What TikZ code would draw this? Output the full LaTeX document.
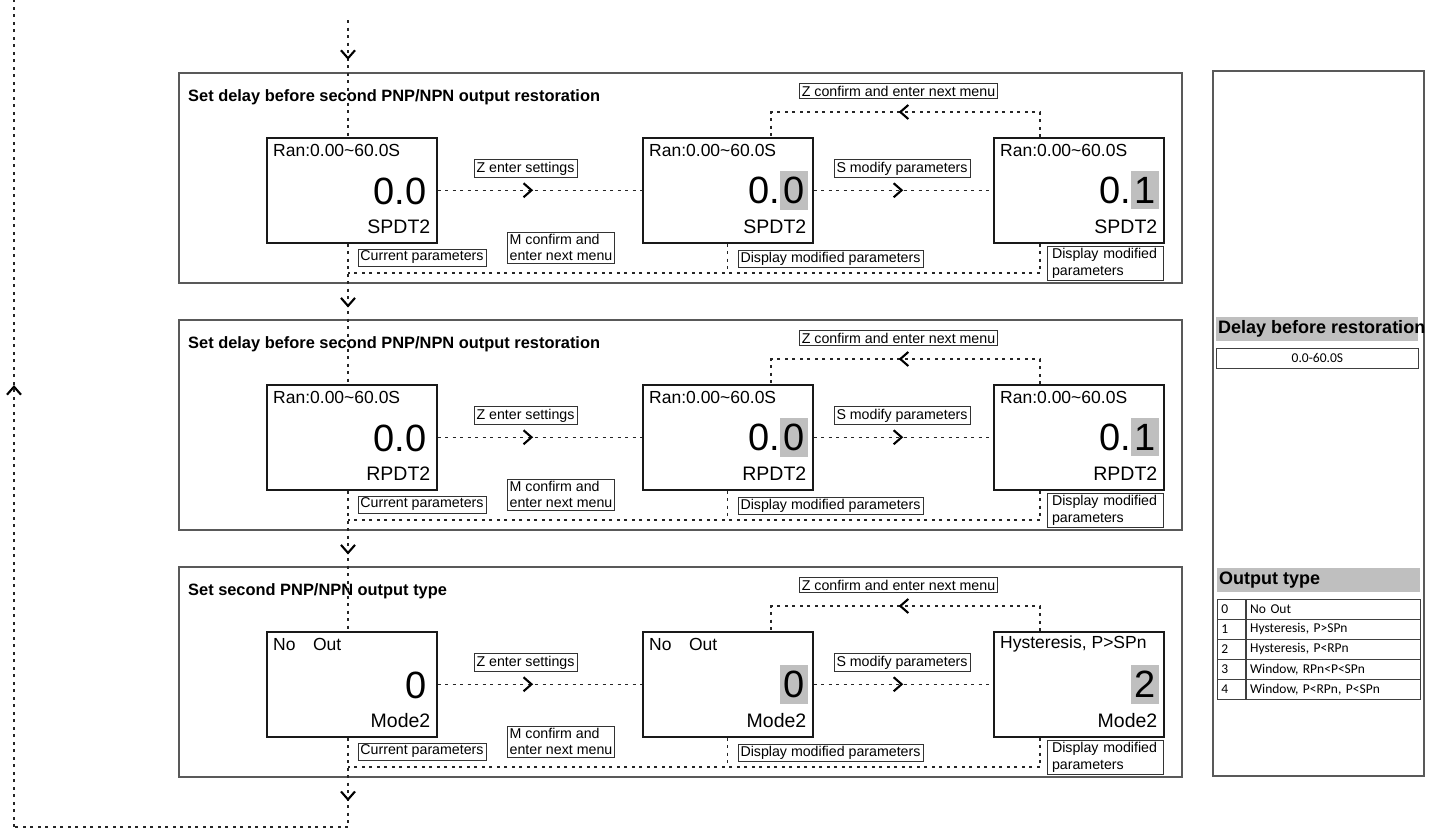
\documentclass[tikz,border=0pt]{standalone}
\usepackage{fontspec}
\setmainfont{Liberation Sans}
\newfontfamily\tabfont{Carlito}
\usetikzlibrary{arrows.meta,calc,positioning,decorations.markings}

\tikzset{
  dots/.style={line width=1.4pt, dash pattern=on 3pt off 4.5pt, black!85},
  mid arrow/.style={postaction={decorate, decoration={markings,
      mark=at position #1 with {\draw[solid, black, line width=2.1pt] (-6pt,7pt) -- (2pt,0pt) -- (-6pt,-7pt);}}}},
  frame/.style={draw=black!65, line width=1.2pt},
  screen/.style={draw=black!90, line width=1.5pt, fill=white, minimum width=170pt, minimum height=105pt, anchor=north west, inner sep=0pt},
  title/.style={font=\fontsize{16.4}{19}\selectfont\bfseries, inner sep=0pt, anchor=west},
  toptext/.style={font=\fontsize{17.5}{20}\selectfont, inner sep=0pt, anchor=west},
  bigval/.style={font=\fontsize{38}{40}\selectfont, inner sep=0pt},
  hilite/.style={bigval, fill=gray!50, inner xsep=3.5pt, inner ysep=6pt},
  tagtext/.style={font=\fontsize{19.5}{22}\selectfont, inner sep=0pt, anchor=east},
  lab/.style={draw=black!80, line width=0.8pt, fill=white, font=\fontsize{14.2}{16.5}\selectfont, inner xsep=2.5pt, inner ysep=2pt, align=left},
  band/.style={fill=gray!50, anchor=north west, inner sep=0pt},
  bandtext/.style={font=\fontsize{18}{20}\selectfont\bfseries, inner sep=0pt, anchor=west},
  cell/.style={draw=black!75, line width=0.8pt, anchor=north west, minimum height=20pt, inner xsep=4pt, inner ysep=0pt, align=left, font=\tabfont\fontsize{13.5}{15}\selectfont}
}

\begin{document}
\begin{tikzpicture}[x=1pt, y=-1pt]
  \useasboundingbox (0,0) rectangle (1438,830);

  % Three menu rows, 247pt apart
  \foreach \i/\dy/\ttl/\topa/\topc/\vala/\preb/\valb/\prec/\valc/\tagname in {
      1/0/{Set delay before second PNP/NPN output restoration}/{Ran:0.00\textasciitilde60.0S}/{Ran:0.00\textasciitilde60.0S}/0.0/0./0/0./1/SPDT2,
      2/247/{Set delay before second PNP/NPN output restoration}/{Ran:0.00\textasciitilde60.0S}/{Ran:0.00\textasciitilde60.0S}/0.0/0./0/0./1/RPDT2,
      3/494/{Set second PNP/NPN output type}/{No\quad Out}/{Hysteresis, P>SPn}/0/{}/0/{}/2/Mode2} {
  \begin{scope}[yshift=-\dy pt]
    % Frame and heading
    \draw[frame] (179,73) rectangle (1182,283);
    \node[title] (t\i) at (188,97) {\ttl};

    % Screens
    \node[screen] (a\i) at (266,137) {};
    \node[screen] (b\i) at (642,137) {};
    \node[screen] (c\i) at (993,137) {};

    \node[toptext] at ($(a\i.north west)+(7,13)$) {\topa};
    \node[toptext] at ($(b\i.north west)+(7,13)$) {\topa};
    \node[toptext] at ($(c\i.north west)+(7,13)$) {\topc};

    \node[bigval, anchor=east] at ($(a\i.east)+(-11,1.5)$) {\vala};
    \node[hilite, anchor=east] (hb\i) at ($(b\i.east)+(-5,0)$) {\valb};
    \node[bigval, anchor=base east] at (hb\i.base west) {\preb};
    \node[hilite, anchor=east] (hc\i) at ($(c\i.east)+(-5,0)$) {\valc};
    \node[bigval, anchor=base east] at (hc\i.base west) {\prec};

    \node[tagtext] at ($(a\i.south east)+(-7,-17)$) {\tagname};
    \node[tagtext] at ($(b\i.south east)+(-7,-17)$) {\tagname};
    \node[tagtext] at ($(c\i.south east)+(-7,-17)$) {\tagname};

    % Forward steps
    \draw[dots, mid arrow=0.45] (a\i) -- (b\i);
    \draw[dots, mid arrow=0.48] (b\i) -- (c\i);
    \node[lab] (ze\i) at (525.5,168.5) {Z enter settings};
    \node[lab] (sm\i) at (902,168.5) {S modify parameters};
    \node[lab] (zc\i) at (898.5,91) {Z confirm and enter next menu};

    % Return over the top
    \coordinate (rc\i) at (1040,112);
    \coordinate (rb\i) at (771,112);
    \draw[dots, mid arrow=0.51] (c\i.north -| rc\i) -- (rc\i) -- (rb\i) -- (b\i.north -| rb\i);

    % Bottom path back to the spine
    \coordinate (sp\i) at (348,273);
    \draw[dots] (c\i.south -| rc\i) |- (sp\i);
    \draw[dots] (b\i.south) -- (b\i.south |- sp\i);

    \node[lab] (cp\i) at (422,257.5) {Current parameters};
    \node[lab] (mc\i) at (561,247.5) {M confirm and\\enter next menu};
    \node[lab] (dm\i) at (830.5,259) {Display modified parameters};
    \node[lab, text width=106pt, inner xsep=5pt] (dp\i) at (1105,263.5) {Display modified\\parameters};
  \end{scope}
  }

  % Spine
  \coordinate (top) at (348,20);
  \draw[dots, mid arrow=0.31] (top) -- (a1.north -| top);
  \draw[dots, mid arrow=0.43] (a1.south -| top) -- (a2.north -| top);
  \draw[dots, mid arrow=0.43] (a2.south -| top) -- (a3.north -| top);

  % Loop back to the start
  \coordinate (loopr) at (348,827);
  \coordinate (loopl) at (14,827);
  \coordinate (loopt) at (14,0);
  \draw[dots, mid arrow=0.67] (a3.south -| top) -- (loopr);
  \draw[dots] (loopr) -- (loopl);
  \draw[dots, mid arrow=0.53] (loopl) -- (loopt);

  % Side panel
  \draw[frame] (1213,71) rectangle (1424,776);
  \node[band, minimum width=202pt, minimum height=24pt] (dband) at (1216,317) {};
  \node[bandtext] (dtitle) at ($(dband.west)+(2,0)$) {Delay before restoration};
  \node[cell, minimum width=202pt] (dval) at (1216,348) {0.0-60.0S};

  \node[band, minimum width=203pt, minimum height=24pt] (oband) at (1217,568) {};
  \node[bandtext] (otitle) at ($(oband.west)+(2,0)$) {Output type};
  \foreach \n/\txt in {0/No Out, 1/{Hysteresis, P>SPn}, 2/{Hysteresis, P<RPn}, 3/{Window, RPn<P<SPn}, 4/{Window, P<RPn, P<SPn}} {
    \node[cell, text width=20pt] (n\n) at (1217,{599+20*\n}) {\n};
    \node[cell, text width=166pt] (d\n) at (n\n.north east) {\txt};
  }
\end{tikzpicture}
\end{document}
